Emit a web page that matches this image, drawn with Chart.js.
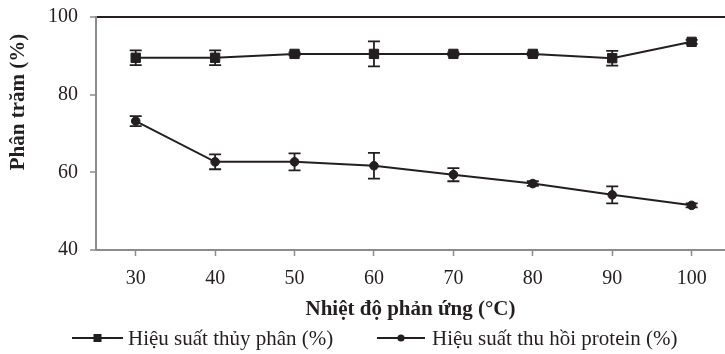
<!DOCTYPE html>
<html>
<head>
<meta charset="utf-8">
<script src="https://cdn.jsdelivr.net/npm/chart.js@4/dist/chart.umd.min.js"></script>
<style>
  html, body { margin: 0; padding: 0; background: #fff; overflow: hidden; }
  #wrap { width: 725px; height: 354px; }
</style>
</head>
<body>
<div id="wrap"><canvas id="chart"></canvas></div>
<script>
// data
var temps = [30, 40, 50, 60, 70, 80, 90, 100];
var hydrolysis = [89.5, 89.5, 90.5, 90.5, 90.5, 90.5, 89.4, 93.6];
var hydrolysisErr = [1.9, 1.9, 0.4, 3.2, 0.4, 0.4, 1.9, 0.5];
var recovery = [73.2, 62.7, 62.7, 61.7, 59.4, 57.1, 54.2, 51.5];
var recoveryErr = [1.3, 1.9, 2.2, 3.3, 1.7, 0.6, 2.2, 0.5];
var yTicks = [40, 60, 80, 100];

var ink = '#231f20';
var axisGray = '#8c8c8c';
var serif = "'Liberation Serif', 'Times New Roman', serif";

function toPoints(vals) {
       return temps.map(function (t, i) { return { x: t, y: vals[i] }; });
}

// error bars, drawn under the lines and markers
var errorBars = {
       id: 'errorBars',
       beforeDatasetsDraw: function (chart) {
              var ctx = chart.ctx;
              var ys = chart.scales.y;
              ctx.save();
              ctx.strokeStyle = ink;
              ctx.lineWidth = 1.8;
              chart.data.datasets.forEach(function (ds, i) {
                     var meta = chart.getDatasetMeta(i);
                     meta.data.forEach(function (pt, j) {
                            var v = ds.data[j].y, e = ds.errors[j];
                            var top = ys.getPixelForValue(v + e);
                            var bot = ys.getPixelForValue(v - e);
                            ctx.beginPath();
                            ctx.moveTo(pt.x, top); ctx.lineTo(pt.x, bot);
                            ctx.moveTo(pt.x - 6, top); ctx.lineTo(pt.x + 6, top);
                            ctx.moveTo(pt.x - 6, bot); ctx.lineTo(pt.x + 6, bot);
                            ctx.stroke();
                     });
              });
              ctx.restore();
       }
};

// y title sits higher than the axis centre in the original, legend is line + marker
var extras = {
       id: 'extras',
       afterDraw: function (chart) {
              var ctx = chart.ctx;
              ctx.save();
              ctx.fillStyle = ink;
              ctx.font = 'bold 21px ' + serif;
              ctx.textAlign = 'center';
              ctx.textBaseline = 'middle';
              ctx.translate(19, 102);
              ctx.rotate(-Math.PI / 2);
              ctx.fillText('Phân trăm (%)', 0, 0);
              ctx.restore();

              var slots = [{ x0: 72, x1: 123, tx: 128 }, { x0: 377, x1: 425, tx: 432 }];
              var y = 338;
              ctx.save();
              chart.data.datasets.forEach(function (ds, i) {
                     var s = slots[i];
                     ctx.strokeStyle = ink;
                     ctx.fillStyle = ink;
                     ctx.lineWidth = 2;
                     ctx.beginPath();
                     ctx.moveTo(s.x0, y); ctx.lineTo(s.x1, y);
                     ctx.stroke();
                     var cx = (s.x0 + s.x1) / 2;
                     if (ds.pointStyle === 'rect') {
                            ctx.fillRect(cx - 4, y - 4, 8, 8);
                     } else {
                            ctx.beginPath();
                            ctx.arc(cx, y, 3.6, 0, Math.PI * 2);
                            ctx.fill();
                     }
                     ctx.font = '21px ' + serif;
                     ctx.textAlign = 'left';
                     ctx.textBaseline = 'middle';
                     ctx.fillText(ds.label, s.tx, y + 1);
              });
              ctx.restore();
       }
};

new Chart(document.getElementById('chart'), {
       type: 'line',
       data: {
              datasets: [{
                     label: 'Hiệu suất thủy phân (%)',
                     data: toPoints(hydrolysis),
                     errors: hydrolysisErr,
                     borderColor: ink,
                     backgroundColor: ink,
                     borderWidth: 2,
                     pointStyle: 'rect',
                     pointRadius: 6.6,
                     pointBorderWidth: 1,
                     fill: false,
                     tension: 0
              }, {
                     label: 'Hiệu suất thu hồi protein (%)',
                     data: toPoints(recovery),
                     errors: recoveryErr,
                     borderColor: ink,
                     backgroundColor: ink,
                     borderWidth: 2,
                     pointStyle: 'circle',
                     pointRadius: 4.3,
                     pointBorderWidth: 1,
                     fill: false,
                     tension: 0
              }]
       },
       options: {
              responsive: true,
              maintainAspectRatio: false,
              animation: false,
              layout: { autoPadding: false, padding: { top: 17, bottom: 32, left: 0, right: 0 } },
              plugins: {
                     legend: { display: false },
                     tooltip: { enabled: false }
              },
              scales: {
                     x: {
                            type: 'linear',
                            min: 25,
                            max: 104.2,
                            afterBuildTicks: function (scale) {
                                   scale.ticks = temps.map(function (t) { return { value: t }; });
                            },
                            afterFit: function (scale) { scale.height = 72; },
                            grid: {
                                   drawOnChartArea: false,
                                   tickColor: axisGray,
                                   tickLength: 6,
                                   tickWidth: 1.5
                            },
                            border: { color: axisGray, width: 2 },
                            ticks: {
                                   color: ink,
                                   font: { family: serif, size: 20 },
                                   padding: 11,
                                   autoSkip: false,
                                   maxRotation: 0
                            },
                            title: {
                                   display: true,
                                   text: 'Nhiệt độ phản ứng (°C)',
                                   color: ink,
                                   font: { family: serif, size: 21, weight: 'bold' },
                                   padding: { top: 0, bottom: 0 }
                            }
                     },
                     y: {
                            min: 40,
                            max: 100,
                            afterBuildTicks: function (scale) {
                                   scale.ticks = yTicks.map(function (v) { return { value: v }; });
                            },
                            afterFit: function (scale) {
                                   scale.width = 96;
                                   scale.paddingTop = 0;
                                   scale.paddingBottom = 0;
                            },
                            grid: {
                                   color: function (c) { return c.tick && c.tick.value === 100 ? ink : 'rgba(0,0,0,0)'; },
                                   lineWidth: function (c) { return c.tick && c.tick.value === 100 ? 2 : 0; },
                                   tickColor: axisGray,
                                   tickLength: 6,
                                   tickWidth: 1.5
                            },
                            border: { color: axisGray, width: 2 },
                            ticks: {
                                   color: ink,
                                   font: { family: serif, size: 20 },
                                   padding: 12
                            }
                     }
              }
       },
       plugins: [errorBars, extras]
});
</script>
</body>
</html>
